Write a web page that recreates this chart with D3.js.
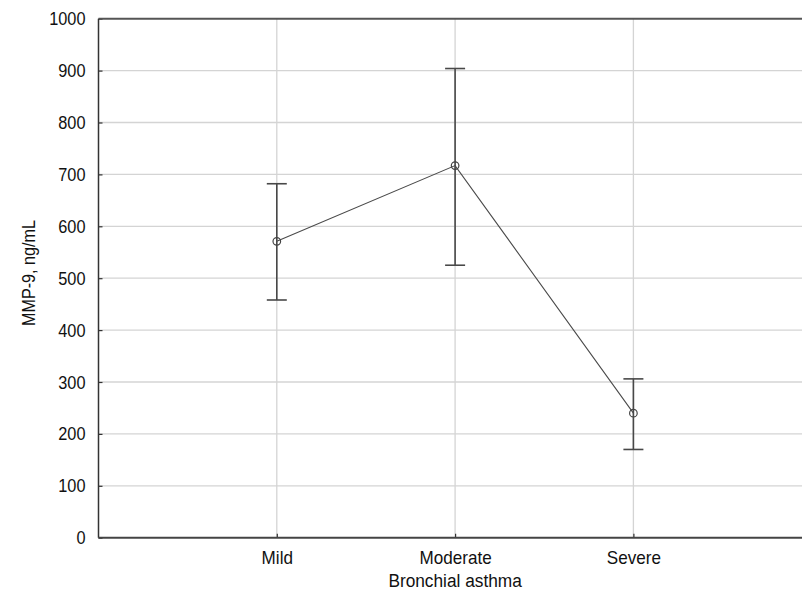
<!DOCTYPE html>
<html><head><meta charset="utf-8">
<script src="https://cdn.jsdelivr.net/npm/d3@7"></script>
<style>
html,body{margin:0;padding:0;background:#fff;}
svg{display:block;}
text{font-family:"Liberation Sans",Arial,sans-serif;}
</style></head>
<body>
<script>
const categories = ["Mild", "Moderate", "Severe"];
const means = [571, 717, 240];
const upper = [682, 904, 306];
const lower = [458, 525, 170];
const yTicks = [0, 100, 200, 300, 400, 500, 600, 700, 800, 900, 1000];
const xLabel = "Bronchial asthma";
const yLabel = "MMP-9, ng/mL";

const W = 802, H = 594;
const pLeft = 98.5, pTop = 18.7, pBottom = 537.7;
const step = 178.3;

const svg = d3.select("body").append("svg").attr("width", W).attr("height", H);

const x = d3.scaleLinear().domain([0, 4]).range([pLeft, pLeft + 4 * step]);
const y = d3.scaleLinear().domain([0, 1000]).range([pBottom, pTop]);

const data = categories.map((c, i) => ({c, pos: i + 1, m: means[i], hi: upper[i], lo: lower[i]}));

// condense text horizontally (narrow sans look)
function narrow(sel, s) {
  sel.each(function() {
    const t = d3.select(this);
    const x0 = +t.attr("x") || 0;
    t.attr("x", x0 / s).attr("transform", `scale(${s},1)`);
  });
}

// grid
const g = svg.append("g");
g.selectAll(".hg").data(yTicks.slice(1, -1)).join("line")
  .attr("x1", pLeft).attr("x2", W).attr("y1", d => y(d)).attr("y2", d => y(d))
  .attr("stroke", "#d4d4d4").attr("stroke-width", 1.3);
g.selectAll(".vg").data(data).join("line")
  .attr("x1", d => x(d.pos)).attr("x2", d => x(d.pos)).attr("y1", pTop).attr("y2", pBottom)
  .attr("stroke", "#d4d4d4").attr("stroke-width", 1.3);

// axes
const yAxis = d3.axisLeft(y).tickValues(yTicks).tickSize(-4).tickPadding(13).tickFormat(d3.format("d"));
const ya = svg.append("g").attr("transform", `translate(${pLeft},0)`).call(yAxis);
ya.select(".domain").remove();
ya.selectAll(".tick line").attr("stroke", "#333").attr("stroke-width", 1.2);
ya.selectAll("text").attr("font-size", 19).attr("fill", "#111");
narrow(ya.selectAll("text"), 0.86);

const xAxis = d3.axisBottom(x).tickValues(data.map(d => d.pos)).tickSize(-4).tickPadding(13.5)
  .tickFormat((d, i) => categories[i]);
const xa = svg.append("g").attr("transform", `translate(0,${pBottom})`).call(xAxis);
xa.select(".domain").remove();
xa.selectAll(".tick line").attr("stroke", "#333").attr("stroke-width", 1.2);
xa.selectAll("text").attr("font-size", 18).attr("fill", "#111");
narrow(xa.selectAll("text"), 0.95);

// frame
svg.append("line").attr("x1", pLeft).attr("x2", W).attr("y1", pTop).attr("y2", pTop)
  .attr("stroke", "#555").attr("stroke-width", 2);
svg.append("line").attr("x1", pLeft).attr("x2", W).attr("y1", pBottom).attr("y2", pBottom)
  .attr("stroke", "#444").attr("stroke-width", 2);
svg.append("line").attr("x1", pLeft).attr("x2", pLeft).attr("y1", pTop).attr("y2", pBottom)
  .attr("stroke", "#333").attr("stroke-width", 1.5);

// error bars
const eb = svg.append("g").attr("stroke", "#484848").attr("stroke-width", 1.6);
eb.selectAll(".v").data(data).join("line")
  .attr("x1", d => x(d.pos)).attr("x2", d => x(d.pos))
  .attr("y1", d => y(d.hi)).attr("y2", d => y(d.lo));
eb.selectAll(".cu").data(data).join("line")
  .attr("x1", d => x(d.pos) - 10).attr("x2", d => x(d.pos) + 10)
  .attr("y1", d => y(d.hi)).attr("y2", d => y(d.hi));
eb.selectAll(".cl").data(data).join("line")
  .attr("x1", d => x(d.pos) - 10).attr("x2", d => x(d.pos) + 10)
  .attr("y1", d => y(d.lo)).attr("y2", d => y(d.lo));

// mean line
svg.append("path").datum(data)
  .attr("d", d3.line().x(d => x(d.pos)).y(d => y(d.m)))
  .attr("fill", "none").attr("stroke", "#4a4a4a").attr("stroke-width", 1.1);

svg.selectAll(".pt").data(data).join("circle")
  .attr("cx", d => x(d.pos)).attr("cy", d => y(d.m)).attr("r", 3.8)
  .attr("fill", "none").attr("stroke", "#444").attr("stroke-width", 1.2);

// labels
const xl = svg.append("text").attr("x", x(2)).attr("y", 587).attr("text-anchor", "middle")
  .attr("font-size", 18).attr("fill", "#111").text(xLabel);
narrow(xl, 0.96);
svg.append("g").attr("transform", `translate(35,273) rotate(-90)`)
  .append("text").attr("text-anchor", "middle").attr("transform", "scale(0.85,1)")
  .attr("font-size", 19).attr("fill", "#111").text(yLabel);
</script>
</body></html>
